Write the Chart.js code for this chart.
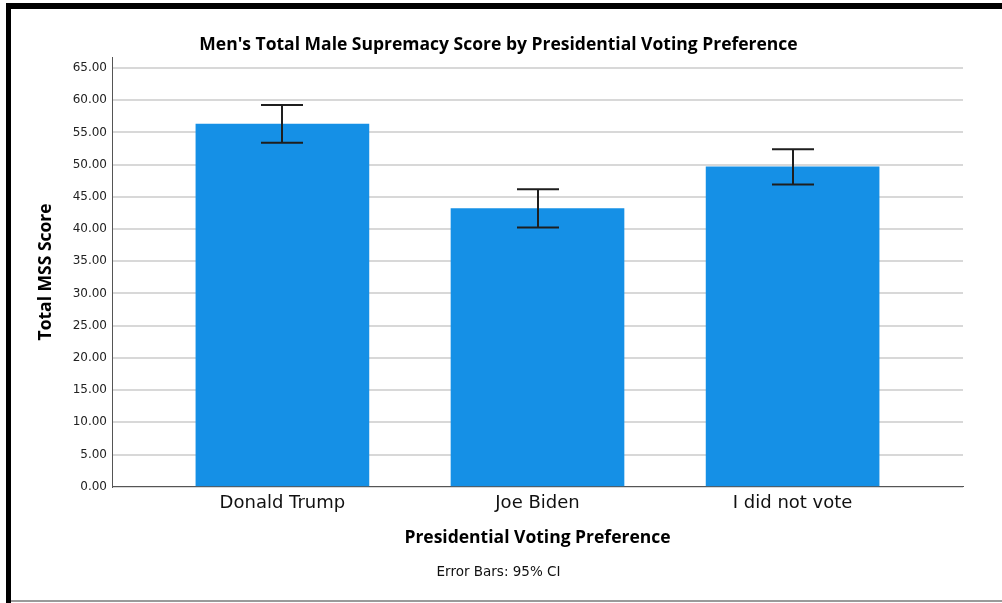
<!DOCTYPE html>
<html>
<head>
<meta charset="utf-8">
<script src="https://cdn.jsdelivr.net/npm/chart.js@4.4.0/dist/chart.umd.min.js"></script>
<style>
  html, body { margin: 0; padding: 0; background: #fff; }
  #wrap { position: relative; width: 1002px; height: 603px; overflow: hidden; }
  #chart { position: absolute; left: 0; top: 0; }
  .edge { position: absolute; }
  #edgeTop { left: 6px; top: 3px; width: 996px; height: 6px; background: #000; }
  #edgeLeft { left: 6px; top: 3px; width: 5px; height: 600px; background: #000; }
  #edgeBottom { left: 11px; top: 600px; width: 991px; height: 2px; background: #9a9a9a; }
</style>
</head>
<body>
<div id="wrap">
  <canvas id="chart" width="1002" height="603"></canvas>
  <div class="edge" id="edgeTop"></div>
  <div class="edge" id="edgeLeft"></div>
  <div class="edge" id="edgeBottom"></div>
</div>
<script>
// voting groups and their mean MSS score with 95% CI
const categories = ["Donald Trump", "Joe Biden", "I did not vote"];
const meanScore = [56.29, 43.18, 49.65];
const ciLow = [53.38, 40.23, 46.91];
const ciHigh = [59.24, 46.18, 52.40];
const yTicks = [0, 5, 10, 15, 20, 25, 30, 35, 40, 45, 50, 55, 60, 65];

const barBlue = "#1590e6";
const capHalf = 21;

// draws the CI whiskers on top of each bar
const errorBars = {
  id: "errorBars",
  afterDatasetsDraw(chart) {
    const ctx = chart.ctx;
    const xs = chart.scales.x;
    const ys = chart.scales.y;
    ctx.save();
    ctx.strokeStyle = "#1e1e1e";
    ctx.lineWidth = 2;
    for (let i = 0; i < categories.length; i++) {
      const x = Math.round(xs.getPixelForValue(i));
      const top = ys.getPixelForValue(ciHigh[i]);
      const bot = ys.getPixelForValue(ciLow[i]);
      ctx.beginPath();
      ctx.moveTo(x, top);
      ctx.lineTo(x, bot);
      ctx.moveTo(x - capHalf, top);
      ctx.lineTo(x + capHalf, top);
      ctx.moveTo(x - capHalf, bot);
      ctx.lineTo(x + capHalf, bot);
      ctx.stroke();
    }
    ctx.restore();
  }
};

const points = categories.map((c, i) => ({ x: i, y: meanScore[i] }));

new Chart(document.getElementById("chart"), {
  type: "bar",
  data: {
    datasets: [{
      data: points,
      backgroundColor: barBlue,
      borderWidth: 0,
      barThickness: 173
    }]
  },
  options: {
    responsive: false,
    animation: false,
    layout: { padding: { left: 34, right: 39, top: 0, bottom: 0 } },
    plugins: {
      legend: { display: false },
      tooltip: { enabled: false },
      title: {
        display: true,
        text: "Men's Total Male Supremacy Score by Presidential Voting Preference",
        color: "#000",
        font: { family: "'Open Sans'", size: 17.5, weight: "bold" },
        padding: { top: 35, bottom: 1 }
      },
      subtitle: {
        display: true,
        position: "bottom",
        text: "Error Bars: 95% CI",
        color: "#111",
        font: { family: "'DejaVu Sans'", size: 13.5 },
        padding: { top: 0, bottom: 22 }
      }
    },
    scales: {
      x: {
        type: "linear",
        offset: false,
        min: -0.668,
        max: 2.668,
        afterBuildTicks(scale) {
          scale.ticks = categories.map((c, i) => ({ value: i }));
        },
        afterFit(scale) { scale.height = 78; },
        ticks: {
          callback: (v) => categories[v],
          color: "#111",
          font: { family: "'DejaVu Sans'", size: 18 },
          padding: 6,
          maxRotation: 0,
          autoSkip: false
        },
        grid: { display: false, drawTicks: false },
        border: { display: true, color: "#555", width: 1 },
        title: {
          display: true,
          text: "Presidential Voting Preference",
          color: "#000",
          font: { family: "'Open Sans'", size: 17.5, weight: "bold" },
          padding: { top: 4, bottom: 16 }
        }
      },
      y: {
        min: 0,
        max: 66.7,
        afterBuildTicks(scale) {
          scale.ticks = yTicks.map(v => ({ value: v }));
        },
        afterFit(scale) { scale.width = 78; },
        ticks: {
          callback: (v) => v.toFixed(2),
          color: "#222",
          font: { family: "'DejaVu Sans'", size: 12 },
          padding: 5
        },
        grid: { color: "#d8d8d8", lineWidth: 2, drawTicks: false },
        border: { display: true, color: "#555", width: 1 },
        title: {
          display: true,
          text: "Total MSS Score",
          color: "#000",
          font: { family: "'Open Sans'", size: 17.5, weight: "bold" },
          padding: { top: 2, bottom: 0 }
        }
      }
    }
  },
  plugins: [errorBars]
});
</script>
</body>
</html>
